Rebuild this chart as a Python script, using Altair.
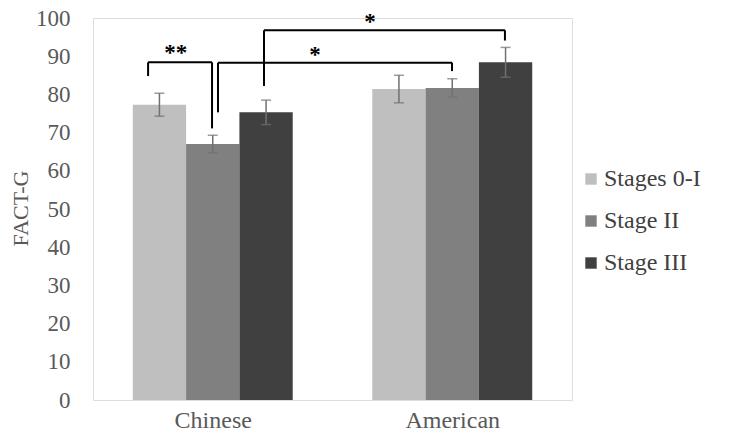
import altair as alt
import pandas as pd

groups = ["Chinese", "American"]
series = ["Stages 0-I", "Stage II", "Stage III"]
values = [[77.3, 67.0, 75.3], [81.4, 81.7, 88.4]]
errors = [[3.0, 2.3, 3.2], [3.6, 2.4, 3.9]]
colors = ["#bfbfbf", "#808080", "#404040"]

# significance brackets (x in group units; group i centred at i + 0.5)
br_x1 = [0.230, 0.522, 0.714]
br_x2 = [0.497, 1.499, 1.720]
br_top = [88.4, 88.3, 96.8]
br_left_bottom = [84.8, 75.3, 82.2]
br_right_bottom = [71.1, 86.1, 94.1]
br_label = ["**", "*", "*"]
br_label_x = [0.345, 0.927, 1.157]
br_label_y = [90.8, 90.3, 98.9]

BAR_W = 0.2226

rows = []
for gi, g in enumerate(groups):
    for si, s in enumerate(series):
        c = gi + 0.5 + (si - 1) * BAR_W
        rows.append(dict(group=g, series=s, value=values[gi][si], err=errors[gi][si],
                         xc=c, xl=c - BAR_W / 2, xr=c + BAR_W / 2,
                         lo=values[gi][si] - errors[gi][si], hi=values[gi][si] + errors[gi][si]))
df = pd.DataFrame(rows)

segs = []
for i in range(len(br_label)):
    segs.append(dict(x=br_x1[i], x2=br_x2[i], y=br_top[i], y2=br_top[i]))
    segs.append(dict(x=br_x1[i], x2=br_x1[i], y=br_top[i], y2=br_left_bottom[i]))
    segs.append(dict(x=br_x2[i], x2=br_x2[i], y=br_top[i], y2=br_right_bottom[i]))
seg_df = pd.DataFrame(segs)
lab_df = pd.DataFrame(dict(x=br_label_x, y=br_label_y, t=br_label))

FONT = "Liberation Serif"

xscale = alt.Scale(domain=[0, 2], nice=False, zero=False)
yscale = alt.Scale(domain=[0, 100], nice=False)

xaxis = alt.Axis(values=[0.5, 1.5], labelExpr="datum.value < 1 ? 'Chinese' : 'American'",
                 title=None, labelPadding=27, labelBaseline="alphabetic", labelFontSize=24)
yaxis = alt.Axis(values=list(range(0, 101, 10)), title="FACT-G", labelOverlap=False,
                 labelPadding=23, labelFontSize=23, titleAngle=270, titleBaseline="middle",
                 titleAlign="center", titleX=-73, titleY=190)

X = lambda f: alt.X(f, scale=xscale, axis=xaxis)
Y = lambda f: alt.Y(f, scale=yscale, axis=yaxis)

bars = alt.Chart(df).mark_bar().encode(
    x=X("xl:Q"),
    x2="xr:Q",
    y=Y("value:Q"),
    y2=alt.Y2(datum=0),
    color=alt.Color("series:N", scale=alt.Scale(domain=series, range=colors),
                    legend=alt.Legend(title=None, orient="none", legendX=486, legendY=149,
                                      symbolType="square", symbolSize=130, symbolStrokeWidth=0,
                                      labelFont=FONT, labelFontSize=24, labelColor="#404040",
                                      rowPadding=18, labelOffset=1)),
)

ebar = alt.Chart(df).mark_rule(color="#707070", strokeWidth=1.5).encode(
    x=X("xc:Q"), y=Y("lo:Q"), y2="hi:Q")
caps_lo = alt.Chart(df).mark_tick(color="#707070", thickness=1.5, size=10, orient="horizontal").encode(
    x=X("xc:Q"), y=Y("lo:Q"))
caps_hi = alt.Chart(df).mark_tick(color="#707070", thickness=1.5, size=10, orient="horizontal").encode(
    x=X("xc:Q"), y=Y("hi:Q"))

brackets = alt.Chart(seg_df).mark_rule(color="black", strokeWidth=2).encode(
    x=X("x:Q"), x2="x2:Q", y=Y("y:Q"), y2="y2:Q")
labels = alt.Chart(lab_df).mark_text(font=FONT, fontSize=23, fontWeight="bold", color="black",
                                     baseline="middle", clip=False).encode(
    x=X("x:Q"), y=Y("y:Q"), text="t:N")

chart = alt.layer(bars, ebar, caps_lo, caps_hi, brackets, labels).properties(
    width=479, height=382,
    autosize=alt.AutoSizeParams(type="none"),
    padding={"left": 85, "top": 10, "right": 152, "bottom": 31},
).configure_view(stroke="#c9d7e8", strokeWidth=1.5).configure(
    background="white", font=FONT
).configure_axis(
    grid=False, ticks=False, domain=False, labelFont=FONT, labelFontSize=23,
    labelColor="#595959", titleFont=FONT, titleFontSize=22, titleFontWeight="normal",
    titleColor="#595959"
).configure_legend(labelFont=FONT)

chart.save("out.html", embed_options={"renderer": "svg", "actions": False})
